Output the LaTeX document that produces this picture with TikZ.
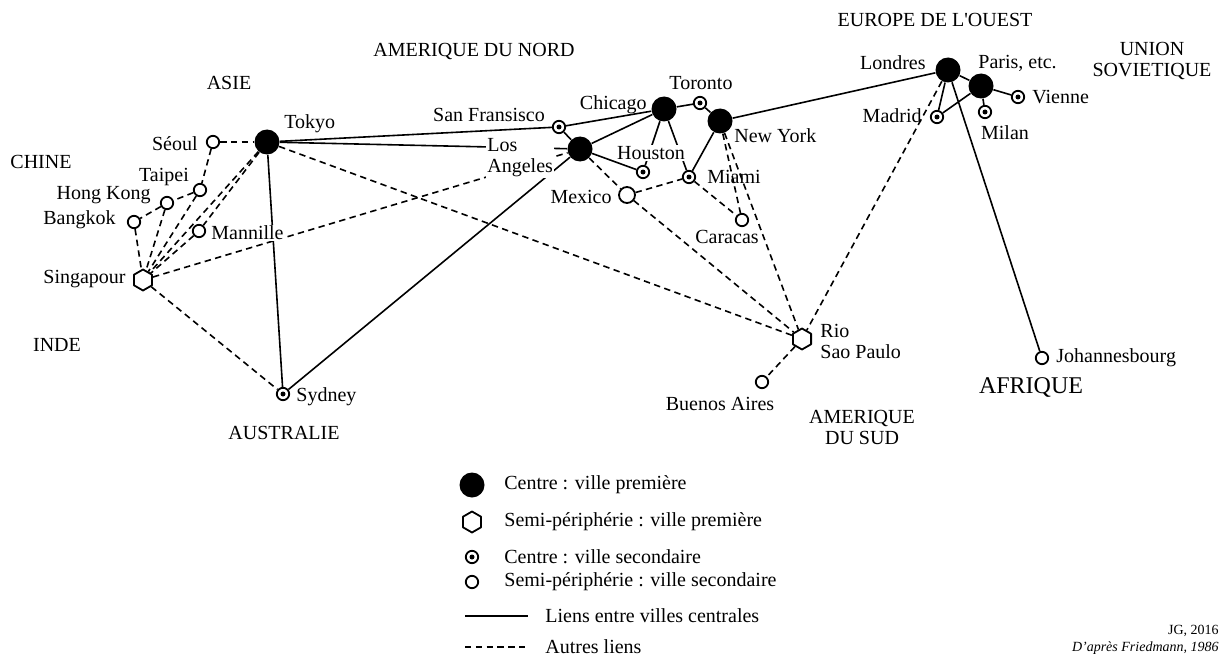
\documentclass[tikz,border=0pt]{standalone}
\usepackage{fontspec}
\setmainfont{Liberation Serif}
\newfontfamily\droit{Liberation Serif}
\usetikzlibrary{shapes.geometric}
\begin{document}
\begin{tikzpicture}[x=0.5pt,y=-0.5pt,line join=round]
	\tikzset{every node/.style={font=\fontsize{10}{10.5}\selectfont},
		centre/.style={circle,fill=black,minimum size=12.5pt,inner sep=0pt},
		semi/.style={regular polygon,regular polygon sides=6,shape border rotate=30,draw,line width=0.9pt,minimum size=10.5pt,inner sep=0pt},
		second/.style={circle,draw,line width=0.9pt,minimum size=6.2pt,inner sep=0pt,
			path picture={\fill (path picture bounding box.center) circle (1.25pt);}},
		periph/.style={circle,draw,line width=0.9pt,minimum size=6.2pt,inner sep=0pt},
		lien/.style={line width=0.8pt},
		autre/.style={line width=0.8pt,dash pattern=on 3.2pt off 2.2pt},
		lbl/.style={inner sep=1pt,align=left},
		lblw/.style={lbl,fill=white,inner sep=0.5pt},
		zone/.style={align=center}}
	\useasboundingbox (0,0) rectangle (1226,658);
	% villes
	\foreach \n/\x/\y in {tokyo/267/142,la/580/149,chicago/664/109,newyork/720/121,londres/948/70,paris/981/86}
	\node[centre] (\n) at (\x,\y) {};
	\foreach \n/\x/\y in {singapour/143/280,rio/802/339}
	\node[semi] (\n) at (\x,\y) {};
	\foreach \n/\x/\y in {sydney/283/394,sanfran/559/127,toronto/700/103,houston/643/172,miami/689/177,vienne/1018/97,milan/985/112,madrid/937/117}
	\node[second] (\n) at (\x,\y) {};
	\foreach \n/\x/\y in {seoul/213/142,taipei/200/190,hongkong/167/203,bangkok/134/222,manille/199/231,caracas/742/220,buenos/762/382,johannes/1042/358}
	\node[periph] (\n) at (\x,\y) {};
	\node[periph,minimum size=8pt] (mexico) at (627,195) {};
	% liens
	\foreach \a/\b in {tokyo/sanfran,sanfran/chicago,sanfran/la,tokyo/la,tokyo/sydney,sydney/la,la/chicago,la/houston,chicago/houston,chicago/miami,chicago/toronto,toronto/newyork,newyork/miami,newyork/londres,londres/paris,londres/madrid,paris/madrid,paris/milan,paris/vienne,londres/johannes}
	\draw[lien] (\a)--(\b);
	\foreach \a/\b in {seoul/tokyo,seoul/taipei,taipei/hongkong,hongkong/bangkok,bangkok/singapour,hongkong/singapour,taipei/singapour,manille/singapour,tokyo/manille,tokyo/singapour,singapour/la,singapour/sydney,tokyo/rio,la/mexico,mexico/miami,mexico/rio,miami/caracas,newyork/caracas,newyork/rio,londres/rio,rio/buenos}
	\draw[autre] (\a)--(\b);
	% noms
	\node[lbl,anchor=west] (tokyo-l) at (282,124) {Tokyo};
	\node[lbl,anchor=east] (seoul-l) at (200,144) {Séoul};
	\node[lbl] (taipei-l) at (164,177) {Taipei};
	\node[lbl,anchor=east] (hongkong-l) at (153,195) {Hong Kong};
	\node[lbl,anchor=east] (bangkok-l) at (118,220) {Bangkok};
	\node[lblw,anchor=west] (manille-l) at (210,233) {Mannille};
	\node[lbl,anchor=east] (singapour-l) at (128,279) {Singapour};
	\node[lbl,anchor=west] (sydney-l) at (294,397) {Sydney};
	\node[lbl] (sanfran-l) at (489,115) {San Fransisco};
	\node[lblw,anchor=west] (la-l) at (486,158) {Los\\Angeles};
	\node[lbl,anchor=east] (chicago-l) at (649,105) {Chicago};
	\node[lbl] (toronto-l) at (701,83) {Toronto};
	\node[lbl,anchor=west] (newyork-l) at (732,136) {New York};
	\node[lblw] (houston-l) at (651,153) {Houston};
	\node[lbl,anchor=west] (miami-l) at (705,177) {Miami};
	\node[lbl,anchor=east] (mexico-l) at (614,197) {Mexico};
	\node[lbl] (caracas-l) at (727,237) {Caracas};
	\node[lbl,anchor=west] (rio-l) at (818,341) {Rio\\Sao Paulo};
	\node[lbl] (buenos-l) at (720,404) {Buenos Aires};
	\node[lbl,anchor=east] (londres-l) at (928,63) {Londres};
	\node[lbl,anchor=west] (paris-l) at (976,63) {Paris, etc.};
	\node[lbl,anchor=west] (vienne-l) at (1030,97) {Vienne};
	\node[lbl] (milan-l) at (1005,133) {Milan};
	\node[lbl,anchor=east] (madrid-l) at (924,116) {Madrid};
	\node[lbl,anchor=west] (johannes-l) at (1054,358) {Johannesbourg};
	% regions
	\node[zone] (asie) at (229,83) {ASIE};
	\node[zone] (chine) at (41,162) {CHINE};
	\node[zone] (inde) at (57,345) {INDE};
	\node[zone] (australie) at (284,433) {AUSTRALIE};
	\node[zone] (amnord) at (474,52) {AMERIQUE DU NORD};
	\node[zone] (amsud) at (862,427) {AMERIQUE\\DU SUD};
	\node[zone] (europe) at (935,20) {EUROPE DE L{\droit '}OUEST};
	\node[zone] (urss) at (1152,61) {UNION\\SOVIETIQUE};
	\node[zone,font=\fontsize{12}{14}\selectfont] (afrique) at (1031,387) {AFRIQUE};
	% legende
	\node[centre] (lg1) at (472,485) {};
	\node[semi] (lg2) at (472,522) {};
	\node[second] (lg3) at (472,557) {};
	\node[periph] (lg4) at (472,582) {};
	\coordinate (lg5a) at (465,616); \coordinate (lg5b) at (528,616);
	\coordinate (lg6a) at (465,647); \coordinate (lg6b) at (528,647);
	\draw[lien] (lg5a)--(lg5b);
	\draw[autre] (lg6a)--(lg6b);
	\foreach \i/\y/\t in {1/485/Centre : ville première,2/522/Semi-périphérie : ville première,3/557/Centre : ville secondaire,4/582/Semi-périphérie : ville secondaire}
	\node[lbl,anchor=west] (lgt\i) at (502,\y) {\t};
	\node[lbl,anchor=west] (lgt5) at (543,616) {Liens entre villes centrales};
	\node[lbl,anchor=west] (lgt6) at (543,647) {Autres liens};
	\node[lbl,anchor=east,font=\fontsize{7}{8}\selectfont] (auteur) at (1221,631) {JG, 2016};
	\node[lbl,anchor=east,font=\fontsize{7}{8}\selectfont\itshape] (source) at (1221,648) {D’après Friedmann, 1986};
\end{tikzpicture}
\end{document}
